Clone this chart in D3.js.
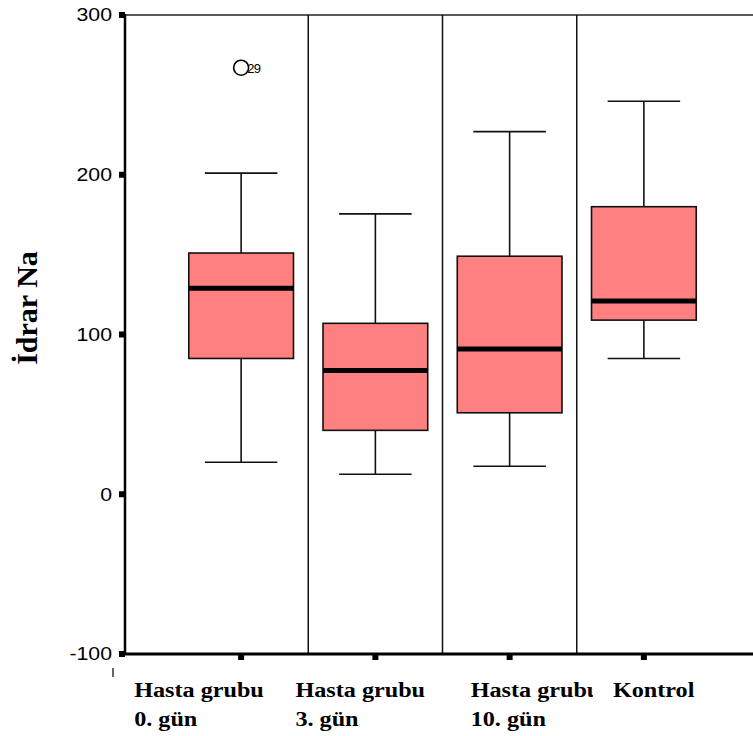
<!DOCTYPE html>
<meta charset="utf-8">
<script src="https://d3js.org/d3.v7.js"></script>
<style>
  body { margin: 0; background: #fff; }
</style>
<div id="chart"></div>
<script>

// data
const groups = ["Hasta grubu 0. gün", "Hasta grubu 3. gün", "Hasta grubu 10. gün", "Kontrol"];
const labelLines = [["Hasta grubu", "0. gün"], ["Hasta grubu", "3. gün"], ["Hasta grubu", "10. gün"], ["Kontrol"]];
const whiskerLow = [20, 12.5, 17.5, 85];
const q1 = [85, 40, 51, 109];
const median = [129, 77.5, 91, 121];
const q3 = [151, 107, 149, 180];
const whiskerHigh = [201, 175.5, 227, 246];
const outliers = [{group: 0, value: 267, label: "29"}];
const yTicks = [-100, 0, 100, 200, 300];

const width = 753, height = 736;

const svg = d3.select("#chart")
  .append("svg")
    .attr("width", width)
    .attr("height", height);

// scales
const x = d3.scaleBand()
  .domain(groups)
  .range([174, 711])
  .padding(0);
const y = d3.scaleLinear()
  .domain([-100, 300])
  .range([654, 15]);

const bw = x.bandwidth();
const boxW = bw * 0.78, capW = bw * 0.54;
const left = 125;

// frame: top line and separators between groups
svg.append("line")
  .attr("x1", left).attr("x2", width)
  .attr("y1", y(300)).attr("y2", y(300))
  .attr("stroke", "#222").attr("stroke-width", 1.5);

svg.selectAll(".sep")
  .data(groups.slice(1))
  .join("line")
    .attr("x1", d => x(d)).attr("x2", d => x(d))
    .attr("y1", y(300)).attr("y2", y(-100))
    .attr("stroke", "#111").attr("stroke-width", 1.5);

// boxes
const g = svg.selectAll(".box")
  .data(groups)
  .join("g")
    .attr("transform", d => `translate(${x(d) + bw / 2},0)`);

g.append("line")
  .attr("y1", (d, i) => y(whiskerLow[i]))
  .attr("y2", (d, i) => y(whiskerHigh[i]))
  .attr("stroke", "#111").attr("stroke-width", 1.6);

g.selectAll(".cap")
  .data((d, i) => [whiskerLow[i], whiskerHigh[i]])
  .join("line")
    .attr("x1", -capW / 2).attr("x2", capW / 2)
    .attr("y1", v => y(v)).attr("y2", v => y(v))
    .attr("stroke", "#111").attr("stroke-width", 1.6);

g.append("rect")
  .attr("x", -boxW / 2)
  .attr("width", boxW)
  .attr("y", (d, i) => y(q3[i]))
  .attr("height", (d, i) => y(q1[i]) - y(q3[i]))
  .attr("fill", "#ff8080")
  .attr("stroke", "#111").attr("stroke-width", 1.6);

g.append("line")
  .attr("x1", -boxW / 2).attr("x2", boxW / 2)
  .attr("y1", (d, i) => y(median[i])).attr("y2", (d, i) => y(median[i]))
  .attr("stroke", "#000").attr("stroke-width", 5);

// outliers
svg.selectAll(".out")
  .data(outliers)
  .join("circle")
    .attr("cx", d => x(groups[d.group]) + bw / 2)
    .attr("cy", d => y(d.value))
    .attr("r", 7.5)
    .attr("fill", "none")
    .attr("stroke", "#000").attr("stroke-width", 1.6);

svg.selectAll(".outlbl")
  .data(outliers)
  .join("text")
    .attr("x", d => x(groups[d.group]) + bw / 2 + 6)
    .attr("y", d => y(d.value) + 1)
    .attr("dy", "0.35em")
    .attr("font-family", "Liberation Sans, Arial, sans-serif")
    .attr("font-size", 13)
    .attr("letter-spacing", "-0.5")
    .text(d => d.label);

// y axis
svg.append("line")
  .attr("x1", left).attr("x2", left)
  .attr("y1", y(300) - 1).attr("y2", y(-100) + 1)
  .attr("stroke", "#000").attr("stroke-width", 2.5);

svg.selectAll(".ytick")
  .data(yTicks)
  .join("rect")
    .attr("x", left - 6).attr("y", d => y(d) - 3)
    .attr("width", 6).attr("height", 6)
    .attr("fill", "#000");

// tick labels are a little wider than the font in the original
svg.selectAll(".ylbl")
  .data(yTicks)
  .join("text")
    .attr("transform", d => `translate(${left - 13},${y(d)}) scale(1.15,1)`)
    .attr("dy", "0.35em")
    .attr("text-anchor", "end")
    .attr("font-family", "Liberation Sans, Arial, sans-serif")
    .attr("font-size", 18.5)
    .text(d => d);

// x axis
svg.append("line")
  .attr("x1", left - 1).attr("x2", width)
  .attr("y1", y(-100)).attr("y2", y(-100))
  .attr("stroke", "#000").attr("stroke-width", 3);

svg.selectAll(".xtick")
  .data(groups)
  .join("rect")
    .attr("x", d => x(d) + bw / 2 - 3).attr("y", y(-100))
    .attr("width", 6).attr("height", 6)
    .attr("fill", "#000");

// small stray mark left of the x axis, as in the original
svg.append("line")
  .attr("x1", 113).attr("x2", 113)
  .attr("y1", 668).attr("y2", 677)
  .attr("stroke", "#000").attr("stroke-width", 1.2);

// x labels (SPSS places them unevenly)
const labelShift = [-107, -80, -39, -31];
svg.append("clipPath").attr("id", "lblclip")
  .append("rect").attr("x", 0).attr("y", 660).attr("width", 593).attr("height", 80);

const xl = svg.selectAll(".xlbl")
  .data(groups)
  .join("g")
    .attr("clip-path", (d, i) => i === 2 ? "url(#lblclip)" : null)
  .append("text")
    .attr("transform", (d, i) => `translate(${x(d) + bw / 2 + labelShift[i]},697) scale(1.1,1)`)
    .attr("font-family", "Liberation Serif, Times New Roman, serif")
    .attr("font-weight", "bold")
    .attr("font-size", 22);

xl.selectAll("tspan")
  .data((d, i) => labelLines[i])
  .join("tspan")
    .attr("x", 0)
    .attr("dy", (d, j) => j ? 29 : 0)
    .text(d => d);

// y title
svg.append("text")
  .attr("transform", `translate(37,${308}) rotate(-90)`)
  .attr("text-anchor", "middle")
  .attr("font-family", "Liberation Serif, Times New Roman, serif")
  .attr("font-weight", "bold")
  .attr("font-size", 30)
  .text("İdrar Na");

</script>
